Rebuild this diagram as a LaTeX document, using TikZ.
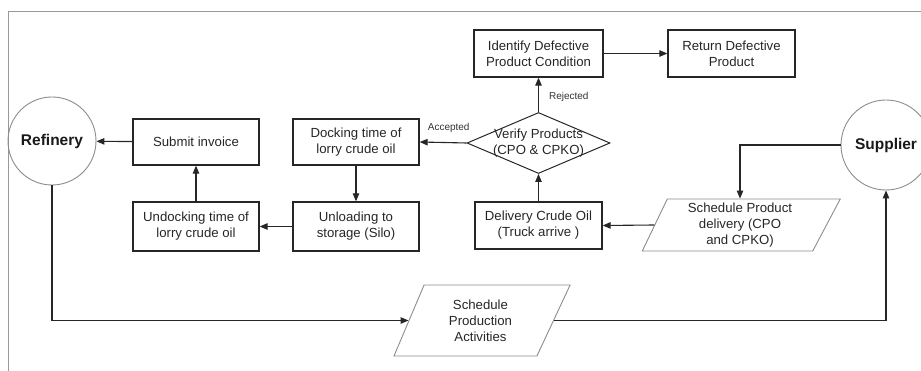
\documentclass[tikz,border=0pt]{standalone}
\usepackage{fontspec}
\setmainfont{Liberation Sans}
\usetikzlibrary{arrows.meta,shapes.geometric}
\begin{document}
\begin{tikzpicture}[x=1pt,y=-1pt,
  box/.style={draw=black!85,line width=1.3pt,rectangle,align=center,inner sep=0pt,
    minimum width=126pt,minimum height=46pt,font=\fontsize{13.2}{16}\selectfont,text=black!85},
  party/.style={draw=black!45,line width=0.9pt,circle,inner sep=0pt,font=\fontsize{15.5}{18}\selectfont\bfseries,text=black!90},
  para/.style={draw=black!45,line width=0.9pt,trapezium,trapezium left angle=68,trapezium right angle=114,
    trapezium stretches=true,align=center,inner sep=0pt,font=\fontsize{13.2}{16}\selectfont,text=black!85},
  dia/.style={draw=black!85,line width=1pt,diamond,inner sep=0pt,font=\fontsize{13.2}{15}\selectfont,text=black!85},
  arr/.style={line width=1.1pt,black!85,-{Triangle[length=8pt,width=6.5pt]}},
  lbl/.style={font=\fontsize{10}{12}\selectfont,text=black!80,inner sep=0pt}]
\useasboundingbox (0,0) rectangle (921,371);
\draw[black!40,line width=0.9pt] (8,371) -- (8,11) -- (921,11);

\node[party,minimum size=88pt] (ref) at (52,141) {Refinery};
\node[party,minimum size=90pt] (sup) at (886,145) {Supplier};

\node[box] (sub) at (196,142) {Submit invoice};
\node[box] (dock) at (356,142) {Docking time of\\lorry crude oil};
\node[box,minimum height=49pt] (undock) at (196,226.5) {Undocking time of\\lorry crude oil};
\node[box,minimum height=49pt] (unl) at (356,226.5) {Unloading to\\storage (Silo)};
\node[box,minimum width=127pt,minimum height=47pt] (del) at (538.5,225.5) {Delivery Crude Oil\\(Truck arrive )};
\node[box,minimum width=129pt,minimum height=47pt] (idf) at (538.5,53.5) {Identify Defective\\Product Condition};
\node[box,minimum width=127pt,minimum height=47pt] (ret) at (731.5,53.5) {Return Defective\\Product};

\node[dia,minimum width=143pt,minimum height=61pt] (ver) at (538.5,143)
  {\makebox[0pt]{\shortstack{Verify Products\\[1pt](CPO \& CPKO)}}};

\node[para,minimum width=177pt,minimum height=71pt] (sp) at (480.5,320.5) {Schedule\\Production\\Activities};
\node[para,minimum width=198pt,minimum height=52pt] (spd) at (740,225) {Schedule Product\\delivery (CPO\\and CPKO)};

\draw[arr] (ref.south) |- (sp.west);
\draw[arr] (sp.east) -| (sup.south);
\draw[arr] (sup.west) -| (spd.north);
\draw[arr] (spd.west) -- (del.east);
\draw[arr] (del) -- (ver);
\draw[arr] (ver) -- node[lbl,right=10pt,pos=0.45] {Rejected} (idf);
\draw[arr] (idf) -- (ret);
\draw[arr] (ver.west) -- node[lbl,above=9pt,pos=0.38] {Accepted} (dock.east);
\draw[arr] (dock) -- (unl);
\draw[arr] (unl) -- (undock);
\draw[arr] (undock) -- (sub);
\draw[arr] (sub) -- (ref);
\end{tikzpicture}
\end{document}
